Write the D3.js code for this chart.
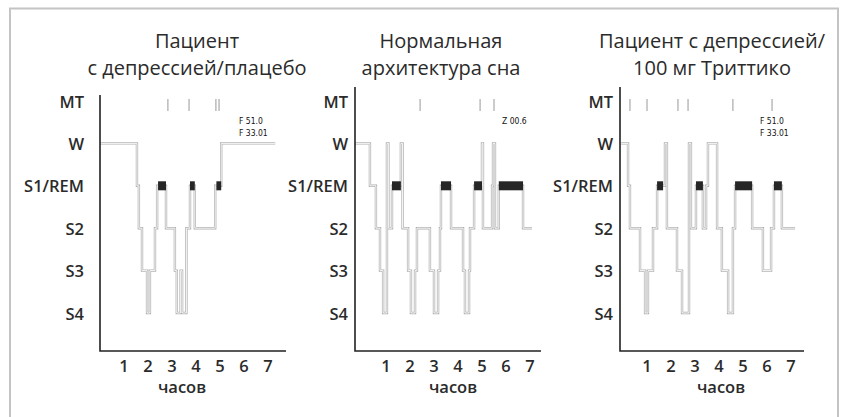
<!DOCTYPE html>
<html>
<head>
<meta charset="utf-8">
<script src="https://cdn.jsdelivr.net/npm/d3@7"></script>
<style>
  body { margin: 0; background: #fff; }
  svg { display: block; font-family: "Open Sans", "Noto Sans", sans-serif; }
</style>
</head>
<body>
<div id="chart"></div>
<script>
// sleep stages, top to bottom
const stageLabels = ["MT", "W", "S1/REM", "S2", "S3", "S4"];
const hourTicks = [1, 2, 3, 4, 5, 6, 7];
const xLabel = "часов";

// hypnograms: [hour, stage] — step changes
const placeboTitle = ["Пациент", "с депрессией/плацебо"];
const placeboSteps = [
  [0, "W"], [1.54, "S1"], [1.62, "S2"], [1.75, "S3"], [1.96, "S4"], [2.08, "S3"],
  [2.29, "S2"], [2.38, "S1"], [2.42, "REM"], [2.75, "S2"], [3.12, "S3"], [3.2, "S4"],
  [3.36, "S3"], [3.42, "S4"], [3.6, "S2"], [3.75, "REM"], [3.95, "S2"], [4.8, "S1"],
  [4.85, "REM"], [5.05, "W"], [7.3, "W"]
];
const placeboMT = [2.83, 3.71, 4.83, 4.96];
const placeboNotes = ["F 51.0", "F 33.01"];

const normalTitle = ["Нормальная", "архитектура сна"];
const normalSteps = [
  [-0.29, "W"], [0.33, "S1"], [0.58, "S2"], [0.75, "S3"], [0.88, "S4"], [1.04, "W"],
  [1.1, "S2"], [1.25, "REM"], [1.62, "W"], [1.69, "S2"], [1.92, "S3"], [2.04, "S4"],
  [2.21, "S3"], [2.29, "S2"], [2.83, "S3"], [3.0, "S4"], [3.17, "S3"], [3.25, "S2"],
  [3.29, "REM"], [3.71, "S2"], [4.21, "S3"], [4.29, "S4"], [4.46, "S3"], [4.5, "S2"],
  [4.67, "REM"], [5.0, "W"], [5.04, "S2"], [5.42, "S1"], [5.46, "W"], [5.54, "S2"],
  [5.7, "REM"], [6.71, "S2"], [7.08, "S2"]
];
const normalMT = [2.42, 4.92, 5.5];
const normalNotes = ["Z 00.6"];

const trittikoTitle = ["Пациент с депрессией/", "100 мг Триттико"];
const trittikoSteps = [
  [-0.08, "W"], [0.21, "S1"], [0.29, "S2"], [0.71, "S3"], [0.92, "S4"], [1.04, "S3"],
  [1.25, "S2"], [1.42, "REM"], [1.67, "S1"], [1.75, "W"], [1.83, "S2"], [2.25, "S3"],
  [2.46, "S4"], [2.75, "W"], [2.83, "S2"], [3.04, "REM"], [3.33, "S2"], [3.46, "S1"],
  [3.54, "W"], [3.92, "S2"], [4.12, "S3"], [4.38, "S4"], [4.58, "S2"], [4.67, "REM"],
  [5.38, "S2"], [5.83, "S3"], [6.17, "S2"], [6.29, "REM"], [6.62, "S2"], [7.17, "S2"]
];
const trittikoMT = [0.29, 1.0, 2.29, 2.71, 4.58, 6.21];
const trittikoNotes = ["F 51.0", "F 33.01"];

const width = 845;
const height = 417;

const svg = d3.select("#chart").append("svg")
  .attr("width", width)
  .attr("height", height);

// outer frame
svg.append("rect")
  .attr("x", 10)
  .attr("y", 8.5)
  .attr("width", 828)
  .attr("height", 420)
  .attr("fill", "none")
  .attr("stroke", "#c4c4c4")
  .attr("stroke-width", 2);

const stageOf = s => (s === "S1" || s === "REM") ? "S1/REM" : s;
const y = d3.scalePoint().domain(stageLabels).range([101, 313]);

const panels = [
  { title: placeboTitle, steps: placeboSteps, mt: placeboMT, notes: placeboNotes,
    hour0: 100, axisLeft: 100, axisRight: 286, axisTop: 95, labelRight: 84,
    titleX: 197, xLabelX: 182, noteX: 239 },
  { title: normalTitle, steps: normalSteps, mt: normalMT, notes: normalNotes,
    hour0: 362, axisLeft: 355, axisRight: 541, axisTop: 87, labelRight: 348,
    titleX: 441, xLabelX: 453, noteX: 502 },
  { title: trittikoTitle, steps: trittikoSteps, mt: trittikoMT, notes: trittikoNotes,
    hour0: 623, axisLeft: 620, axisRight: 804, axisTop: 87, labelRight: 613,
    titleX: 712, xLabelX: 721, noteX: 760 }
];

const axisY = 351;

panels.forEach(p => {
  const x = d3.scaleLinear().domain([0, 7]).range([p.hour0, p.hour0 + 168]);
  const g = svg.append("g");

  // title
  g.append("text")
    .attr("x", p.titleX)
    .attr("text-anchor", "middle")
    .attr("fill", "#2b2b2b")
    .style("font-size", "20px")
    .style("font-weight", 500)
    .selectAll("tspan")
    .data(p.title)
    .join("tspan")
      .attr("x", p.titleX)
      .attr("y", (d, i) => 48 + i * 26.5)
      .text(d => d);

  // stage labels
  g.selectAll(".stage")
    .data(stageLabels)
    .join("text")
      .attr("class", "stage")
      .attr("x", p.labelRight)
      .attr("y", d => y(d))
      .attr("dominant-baseline", "central")
      .attr("text-anchor", "end")
      .attr("fill", "#2b2b2b")
      .style("font-size", "16.5px")
      .style("font-weight", 600)
      .text(d => d);

  // hour ticks
  g.selectAll(".hour")
    .data(hourTicks)
    .join("text")
      .attr("class", "hour")
      .attr("x", d => x(d))
      .attr("y", 372)
      .attr("text-anchor", "middle")
      .attr("fill", "#2b2b2b")
      .style("font-size", "16.5px")
      .style("font-weight", 600)
      .text(d => d);

  g.append("text")
    .attr("x", p.xLabelX)
    .attr("y", 393)
    .attr("text-anchor", "middle")
    .attr("fill", "#2b2b2b")
    .style("font-size", "16.5px")
    .style("font-weight", 600)
    .text(xLabel);

  // MT marks
  g.selectAll(".mt")
    .data(p.mt)
    .join("line")
      .attr("x1", d => x(d))
      .attr("x2", d => x(d))
      .attr("y1", 99)
      .attr("y2", 111)
      .attr("stroke", "#999")
      .attr("stroke-width", 1);

  // notes
  g.selectAll(".note")
    .data(p.notes)
    .join("text")
      .attr("x", p.noteX)
      .attr("y", (d, i) => 124 + i * 12)
      .attr("fill", "#111")
      .style("font-size", "8.5px")
      .style("font-family", "'Liberation Sans Narrow', 'DejaVu Sans Condensed', sans-serif")
      .text(d => d);

  // hypnogram trace, drawn hollow like the scan
  const line = d3.line()
    .x(d => x(d[0]))
    .y(d => y(stageOf(d[1])))
    .curve(d3.curveStepAfter);

  g.append("path")
    .attr("d", line(p.steps))
    .attr("fill", "none")
    .attr("stroke", "#b0b0b0")
    .attr("stroke-width", 2.4);
  g.append("path")
    .attr("d", line(p.steps))
    .attr("fill", "none")
    .attr("stroke", "#fff")
    .attr("stroke-width", 0.9);

  // REM blocks
  const rem = p.steps.slice(0, -1)
    .map((d, i) => [d, p.steps[i + 1]])
    .filter(([a]) => a[1] === "REM");
  g.selectAll(".rem")
    .data(rem)
    .join("rect")
      .attr("x", d => x(d[0][0]))
      .attr("y", y("S1/REM") - 4.5)
      .attr("width", d => x(d[1][0]) - x(d[0][0]))
      .attr("height", 9)
      .attr("fill", "#262626");

  // axes
  g.append("path")
    .attr("d", `M${p.axisLeft},${p.axisTop}V${axisY}H${p.axisRight}`)
    .attr("fill", "none")
    .attr("stroke", "#222")
    .attr("stroke-width", 1.6);
});
</script>
</body>
</html>
